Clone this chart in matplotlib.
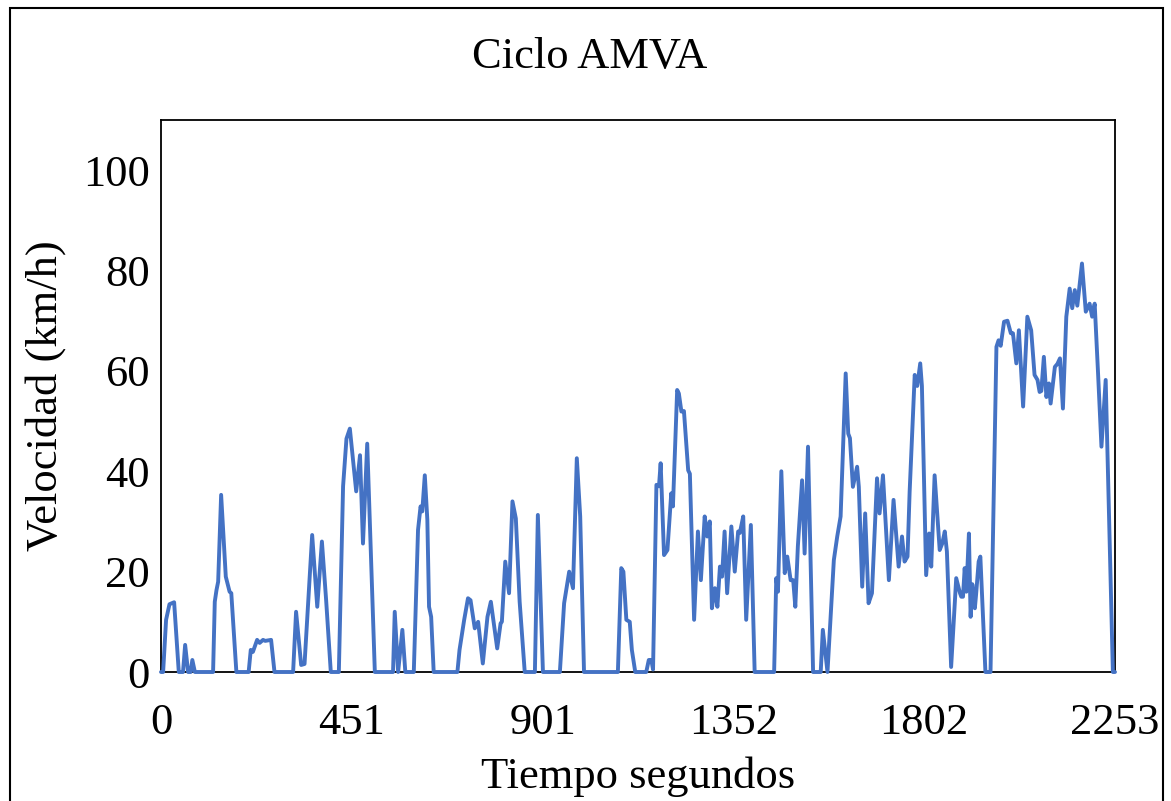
import matplotlib
matplotlib.use("Agg")
import matplotlib.pyplot as plt
from matplotlib.patches import Rectangle

# Time (s) and speed (km/h)
tiempo = [0, 5, 12, 20, 31, 42, 52, 57, 64, 70, 74, 80, 123, 127, 131, 135, 142, 153, 162, 166, 178,
          207, 212, 217, 227, 233, 241, 246, 260, 268, 312, 319, 331, 339, 357, 369, 380, 390, 401,
          420, 430, 438, 446, 461, 470, 477, 487, 505, 548, 552, 560, 570, 577, 597, 607, 613, 617,
          623, 629, 633, 638, 644, 700, 705, 716, 725, 731, 741, 749, 760, 771, 779, 794, 802, 805,
          813, 822, 830, 838, 847, 859, 883, 890, 902, 942, 952, 957, 964, 973, 982, 990, 999, 1079,
          1087, 1092, 1099, 1107, 1112, 1120, 1146, 1152, 1158, 1162, 1170, 1176, 1180, 1188, 1196,
          1205, 1209, 1219, 1223, 1229, 1235, 1245, 1249, 1259, 1268, 1275, 1284, 1290, 1296, 1301,
          1308, 1314, 1320, 1325, 1331, 1337, 1347, 1355, 1363, 1367, 1375, 1382, 1393, 1402, 1448,
          1453, 1457, 1465, 1473, 1479, 1487, 1493, 1498, 1504, 1514, 1520, 1528, 1540, 1558, 1563,
          1574, 1582, 1589, 1597, 1605, 1617, 1623, 1627, 1634, 1644, 1648, 1656, 1663, 1671, 1679,
          1691, 1697, 1705, 1719, 1730, 1742, 1750, 1756, 1763, 1768, 1780, 1786, 1793, 1797, 1807,
          1814, 1819, 1827, 1839, 1845, 1851, 1856, 1866, 1878, 1887, 1890, 1894, 1898, 1902, 1908,
          1912, 1916, 1922, 1925, 1931, 1935, 1947, 1959, 1973, 1978, 1983, 1991, 1999, 2007, 2012,
          2020, 2026, 2036, 2046, 2055, 2063, 2070, 2075, 2079, 2085, 2091, 2097, 2101, 2111, 2117,
          2123, 2130, 2138, 2146, 2152, 2158, 2164, 2175, 2184, 2193, 2199, 2205, 2213, 2221, 2231,
          2248, 2253]
velocidad = [0, 0, 10.4, 13.5, 13.9, 0, 0, 5.4, 0, 0, 2.4, 0, 0, 14, 16.3, 18, 35.3, 19, 16, 15.7, 0,
             0, 4.4, 4, 6.4, 5.8, 6.4, 6.2, 6.4, 0, 0, 12, 1.4, 1.6, 27.3, 13, 26, 14.3, 0,
             0, 37, 46.5, 48.5, 36, 43.2, 25.6, 45.5, 0, 0, 12, 0, 8.4, 0, 0, 28.3, 33, 32,
             39.2, 30.3, 13, 11, 0, 0, 4.4, 10.4, 14.7, 14.3, 8.7, 10, 1.7, 11, 14, 4.7, 9.7, 10,
             22, 15.7, 34, 30.6, 14, 0, 0, 31.3, 0, 0, 13.7, 16.3, 20, 16.7, 42.6, 31, 0, 0,
             20.7, 20, 10.4, 10, 4.4, 0, 0, 2.4, 2.4, 0.5, 37.3, 37, 41.6, 23.3, 24.3,
             35.6, 33, 56.2, 55.5, 51.9, 52, 40.2, 39.5, 10.4, 28, 18.3, 31, 27, 30, 12.7,
             16.7, 13, 21, 19, 28, 15.7, 29, 20, 28, 27.7, 31, 10.4, 29.3, 0, 0,
             18.7, 16, 40, 19.7, 23, 18.3, 18.3, 13, 25, 38.2, 23.6, 44.9, 0, 0, 8.4,
             0, 11.7, 22.3, 27, 31, 59.5, 47.5, 46.6, 36.9, 40.9, 36.9, 17, 31.6, 13.7, 15.7,
             38.6, 31.6, 39.2, 18.3, 34.3, 21, 27, 22, 23, 35.9, 59.2, 57, 61.5, 57, 19.3,
             27.6, 21, 39.2, 24.3, 25.6, 28, 24, 1, 18.7, 15.7, 15, 15, 20.7, 16, 27.6,
             11, 17.5, 12.7, 15.5, 22, 23, 0, 0, 64.8, 66.1, 65, 69.8, 70, 67.5, 67.5,
             61.5, 68.1, 52.9, 70.8, 68.1, 59.2, 58.2, 55.8, 56, 62.8, 54.8, 57.5, 53.5, 60.8, 61.4,
             62.5, 52.5, 70.8, 76.4, 72.5, 76.1, 73, 81.4, 71.8, 73.4, 70.8, 73.4, 59.5, 44.9, 58.2,
             0, 0]

xticks = [0, 451, 901, 1352, 1802, 2253]
yticks = [0, 20, 40, 60, 80, 100]

plt.rcParams['font.family'] = ['Liberation Serif', 'DejaVu Serif']

fig = plt.figure(figsize=(11.71, 8.01), dpi=100)
ax = fig.add_axes([161/1171, 1 - 672/801, (1115 - 161)/1171, (672 - 120)/801])

ax.plot(tiempo, velocidad, color='#4472C4', linewidth=2.8, solid_joinstyle='round',
        solid_capstyle='round', clip_on=False, zorder=5)

ax.set_xlim(0, 2253)
ax.set_ylim(0, 110)
ax.set_xticks(xticks)
ax.set_xticklabels([str(t) for t in xticks])
ax.set_yticks(yticks)
ax.set_yticklabels([str(t) for t in yticks])
ax.tick_params(axis='both', length=0, labelsize=32)
ax.tick_params(axis='x', pad=22)
ax.tick_params(axis='y', pad=8)
for s in ax.spines.values():
    s.set_color('black')
    s.set_linewidth(1.3)

ax.set_xlabel('Tiempo segundos', fontsize=32, labelpad=10)
ax.set_ylabel('Velocidad (km/h)', fontsize=32, labelpad=12)
fig.text(590/1171, 1 - 57/801, 'Ciclo AMVA', fontsize=32, ha='center', va='center')

fig.patches.append(Rectangle((10/1171, -0.01), (1163 - 10)/1171, 1 - 8/801 + 0.01,
                             transform=fig.transFigure, fill=False, edgecolor='black',
                             linewidth=1.5))

fig.savefig('out.png', dpi=100)
